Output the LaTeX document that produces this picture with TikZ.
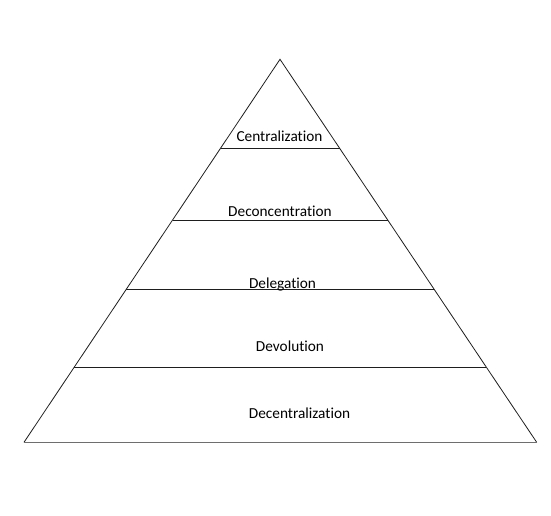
\documentclass[tikz,border=0pt]{standalone}
\usepackage{fontspec}
\setmainfont{Carlito}[Ligatures={NoCommon}]
\usepackage{tikz}
\usetikzlibrary{calc}
\definecolor{pyline}{RGB}{30,30,30}
\definecolor{pybase}{RGB}{110,110,110}
\tikzstyle{level} = [draw=pyline, line width=0.8pt]
\tikzstyle{lab} = [font=\fontsize{15.3}{18}\selectfont, inner sep=0pt]

\begin{document}
\begin{tikzpicture}[x=1pt, y=-1pt]
\useasboundingbox (0,0) rectangle (551,516);
% Pyramid corners
\coordinate (top) at (280,59.3);
\coordinate (bl) at (24,442.3);
\coordinate (br) at (536.7,442.3);

% Outline
\draw[level] (bl) -- (top) -- (br);
\draw[draw=pybase, line width=1.4pt] (bl) -- (br);

% Level lines
\foreach \name/\t in {l1/0.2324, l2/0.4196, l3/0.6014, l4/0.8042} {
  \coordinate (\name a) at ($(top)!\t!(bl)$);
  \coordinate (\name b) at ($(top)!\t!(br)$);
  \draw[level] (\name a) -- (\name b);
}

% Labels
\node[lab] (central) at (279.5,136.7) {Centralization};
\node[lab] (deconc) at (280,211.7) {Deconcentration};
\node[lab] (deleg) at (282.5,284.5) {Delegation};
\node[lab] (devol) at (290,346.7) {Devolution};
\node[lab] (decent) at (299.5,413) {Decentralization};
\end{tikzpicture}
\end{document}
